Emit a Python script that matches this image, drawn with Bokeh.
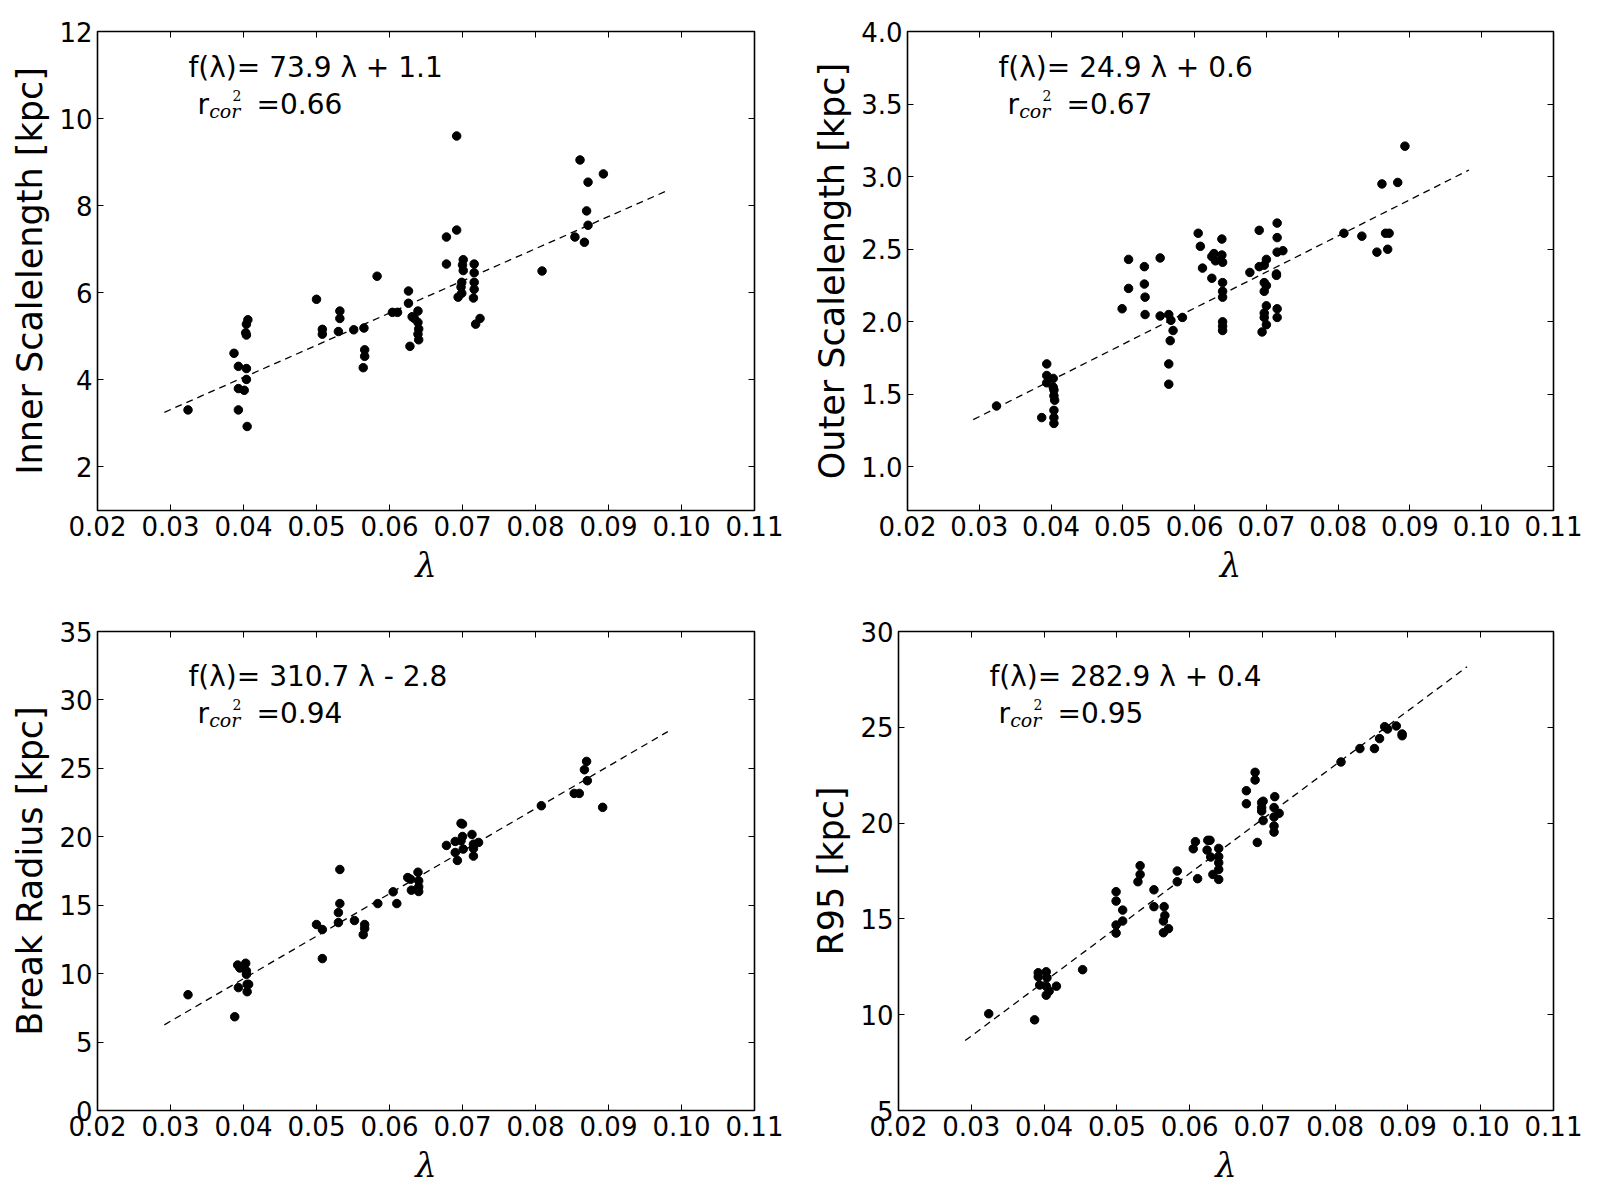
from bokeh.plotting import figure
from bokeh.layouts import column, row
from bokeh.models import Range1d, FixedTicker, LinearAxis, Label
from bokeh.embed import file_html
from bokeh.resources import INLINE

# ---------------- data ----------------
x_ticks = [0.02, 0.03, 0.04, 0.05, 0.06, 0.07, 0.08, 0.09, 0.10, 0.11]
x_tick_labels = ["0.02", "0.03", "0.04", "0.05", "0.06", "0.07", "0.08", "0.09", "0.10", "0.11"]

# Panel 1: inner scalelength
lam1 = [0.0324, 0.0387, 0.0393, 0.0393, 0.0393, 0.0401, 0.0404, 0.0404, 0.0403, 0.0404, 0.0404, 0.0406, 0.0405,
        0.0500, 0.0508, 0.0508, 0.0530, 0.0532, 0.0532, 0.0551, 0.0565, 0.0566, 0.0566, 0.0564, 0.0583,
        0.0604, 0.0611, 0.0626, 0.0626, 0.0628, 0.0631, 0.0634, 0.0639, 0.0639, 0.0640, 0.0639, 0.0640,
        0.0678, 0.0678, 0.0692, 0.0692, 0.0701, 0.0700, 0.0701, 0.0699, 0.0698, 0.0699, 0.0694,
        0.0716, 0.0716, 0.0716, 0.0716, 0.0715, 0.0724, 0.0718,
        0.0809, 0.0854, 0.0861, 0.0867, 0.0870, 0.0872, 0.0872, 0.0893]
inner = [3.31, 4.61, 4.31, 3.80, 3.31, 3.76, 4.26, 4.01, 5.08, 5.03, 5.28, 5.38, 2.93,
         5.85, 5.16, 5.05, 5.11, 5.58, 5.41, 5.15, 5.19, 4.69, 4.54, 4.28, 6.38,
         5.55, 5.55, 6.04, 5.76, 4.77, 5.45, 5.41, 5.58, 5.32, 5.17, 5.05, 4.92,
         6.66, 7.28, 7.44, 9.60, 6.76, 6.64, 6.51, 6.24, 6.13, 5.99, 5.90,
         6.66, 6.46, 6.24, 6.08, 5.88, 5.41, 5.28,
         6.50, 7.28, 9.05, 7.16, 7.88, 8.54, 7.55, 8.73]
inner_ticks = [2, 4, 6, 8, 10, 12]
inner_tick_labels = ["2", "4", "6", "8", "10", "12"]

# Panel 2: outer scalelength
lam2 = [0.0324, 0.0387, 0.0394, 0.0394, 0.0394, 0.0403, 0.0403, 0.0404, 0.0404, 0.0405, 0.0404, 0.0404, 0.0404,
        0.0499, 0.0508, 0.0508, 0.0530, 0.0530, 0.0531, 0.0531, 0.0552, 0.0552, 0.0564, 0.0567, 0.0570, 0.0566,
        0.0564, 0.0564, 0.0583,
        0.0605, 0.0608, 0.0611, 0.0624, 0.0624, 0.0627, 0.0629, 0.0638, 0.0638, 0.0639, 0.0639, 0.0639, 0.0639,
        0.0639, 0.0639, 0.0639,
        0.0677, 0.0690, 0.0690, 0.0694, 0.0697, 0.0700, 0.0697, 0.0700, 0.0697, 0.0700, 0.0697, 0.0697, 0.0700,
        0.0715, 0.0715, 0.0715, 0.0723, 0.0714, 0.0714, 0.0715, 0.0715,
        0.0808, 0.0833, 0.0854, 0.0861, 0.0866, 0.0871, 0.0869, 0.0883, 0.0893]
outer = [1.42, 1.34, 1.71, 1.63, 1.58, 1.61, 1.55, 1.53, 1.49, 1.46, 1.39, 1.34, 1.30,
         2.09, 2.23, 2.43, 2.38, 2.26, 2.17, 2.05, 2.44, 2.04, 2.05, 2.01, 1.94, 1.87,
         1.71, 1.57, 2.03,
         2.61, 2.52, 2.37, 2.30, 2.45, 2.47, 2.42, 2.57, 2.46, 2.41, 2.27, 2.21, 2.17,
         2.00, 1.97, 1.94,
         2.34, 2.63, 2.38, 1.93, 2.39, 2.43, 2.27, 2.25, 2.21, 2.11, 2.06, 2.03, 1.98,
         2.68, 2.58, 2.48, 2.49, 2.33, 2.32, 2.09, 2.03,
         2.61, 2.59, 2.48, 2.95, 2.61, 2.61, 2.50, 2.96, 3.21]
outer_ticks = [1.0, 1.5, 2.0, 2.5, 3.0, 3.5, 4.0]
outer_tick_labels = ["1.0", "1.5", "2.0", "2.5", "3.0", "3.5", "4.0"]

# Panel 3: break radius
lam3 = [0.0324, 0.0388, 0.0392, 0.0395, 0.0403, 0.0404, 0.0404, 0.0393, 0.0405, 0.0407, 0.0405,
        0.0500, 0.0508, 0.0508, 0.0530, 0.0530, 0.0532, 0.0532, 0.0552, 0.0566, 0.0566, 0.0564, 0.0584,
        0.0605, 0.0610, 0.0625, 0.0629, 0.0630, 0.0639, 0.0640, 0.0640, 0.0640,
        0.0678, 0.0690, 0.0690, 0.0693, 0.0698, 0.0700, 0.0700, 0.0698, 0.0701, 0.0713, 0.0715, 0.0715,
        0.0715, 0.0722,
        0.0808, 0.0853, 0.0860, 0.0867, 0.0870, 0.0871, 0.0892]
brk = [8.46, 6.85, 10.63, 10.41, 10.76, 10.20, 9.95, 8.98, 9.22, 9.22, 8.68,
       13.59, 13.22, 11.10, 14.46, 13.73, 15.12, 17.61, 13.88, 13.59, 13.29, 12.85, 15.12,
       15.98, 15.12, 17.02, 16.90, 16.10, 17.41, 16.78, 16.34, 16.00,
       19.37, 19.66, 18.85, 18.27, 20.98, 20.93, 20.02, 19.71, 19.10, 20.17, 19.46, 19.15,
       18.59, 19.59,
       22.27, 23.17, 23.17, 24.90, 25.51, 24.10, 22.15]
brk_ticks = [0, 5, 10, 15, 20, 25, 30, 35]
brk_tick_labels = ["0", "5", "10", "15", "20", "25", "30", "35"]

# Panel 4: R95
lam4 = [0.0324, 0.0387, 0.0392, 0.0392, 0.0394, 0.0403, 0.0404, 0.0403, 0.0403, 0.0407, 0.0417, 0.0453,
        0.0499, 0.0499, 0.0508, 0.0499, 0.0499, 0.0508, 0.0529, 0.0532, 0.0532, 0.0551, 0.0551, 0.0565,
        0.0566, 0.0564, 0.0564, 0.0571, 0.0583, 0.0583,
        0.0605, 0.0608, 0.0611, 0.0625, 0.0628, 0.0624, 0.0629, 0.0632, 0.0640, 0.0640, 0.0640, 0.0640, 0.0640,
        0.0678, 0.0678, 0.0690, 0.0690, 0.0693, 0.0699, 0.0699, 0.0699, 0.0701, 0.0701, 0.0717, 0.0716,
        0.0716, 0.0716, 0.0716, 0.0723,
        0.0808, 0.0834, 0.0854, 0.0861, 0.0868, 0.0872, 0.0884, 0.0892, 0.0892]
r95 = [10.05, 9.73, 12.19, 11.98, 11.55, 12.24, 11.93, 11.49, 11.02, 11.23, 11.49, 12.35,
       16.42, 15.93, 15.46, 14.68, 14.26, 14.89, 16.94, 17.32, 17.78, 16.52, 15.64, 15.64,
       15.18, 14.89, 14.28, 14.49, 17.50, 16.94,
       18.66, 19.03, 17.10, 19.10, 19.10, 18.59, 18.23, 17.32, 18.68, 18.25, 17.93, 17.58, 17.06,
       21.69, 21.01, 22.65, 22.25, 18.99, 21.07, 20.81, 20.63, 21.14, 20.13, 21.38, 20.81,
       20.32, 19.85, 19.53, 20.51,
       23.19, 23.89, 23.89, 24.41, 25.03, 24.91, 25.07, 24.65, 24.56]
r95_ticks = [5, 10, 15, 20, 25, 30]
r95_tick_labels = ["5", "10", "15", "20", "25", "30"]

# fit parameters (slope, intercept) and correlation texts
fit_inner = (73.9, 1.1)
fit_outer = (24.9, 0.6)
fit_brk = (310.7, -2.8)
fit_r95 = (282.9, 0.4)
eq_texts = ["f(λ)= 73.9 λ + 1.1", "f(λ)= 24.9 λ + 0.6", "f(λ)= 310.7 λ - 2.8", "f(λ)= 282.9 λ + 0.4"]
r2_texts = ["=0.66", "=0.67", "=0.94", "=0.95"]
y_titles = ["Inner Scalelength [kpc]", "Outer Scalelength [kpc]", "Break Radius [kpc]", "R95 [kpc]"]

FONT = "DejaVu Sans"
TICK_FS = "26px"
ANN_FS = "28px"


def style_axis(ax, ticks, labels, show_labels=True):
    ax.ticker = FixedTicker(ticks=ticks)
    ax.major_tick_in = 6
    ax.major_tick_out = 0
    ax.major_tick_line_color = "black"
    ax.major_tick_line_width = 1
    ax.minor_tick_line_color = None
    ax.axis_line_color = None
    ax.major_label_text_font = FONT
    if show_labels:
        ax.major_label_overrides = {t: l for t, l in zip(ticks, labels)}
        ax.major_label_text_color = "black"
        ax.major_label_standoff = 5
        ax.major_label_text_font_size = TICK_FS
    else:
        # mirror ticks only: labels are not drawn
        ax.major_label_text_color = None
        ax.major_label_standoff = 0
        ax.major_label_text_font_size = "6px"


def make_panel(lam, vals, fit, eq_text, r2_text, ytitle, yr, yticks, ylabels,
               width, height, bl, br, bt, bb, frame_h, top_off):
    p = figure(width=width, height=height, output_backend="svg", toolbar_location=None,
               x_range=Range1d(0.02, 0.11), y_range=Range1d(*yr),
               min_border_left=bl, min_border_right=br, min_border_top=bt, min_border_bottom=bb)
    p.xgrid.visible = False
    p.ygrid.visible = False
    p.outline_line_color = "black"
    p.outline_line_width = 1.6
    p.outline_line_alpha = 1.0
    p.background_fill_color = "white"
    p.border_fill_color = "white"

    style_axis(p.xaxis[0], x_ticks, x_tick_labels)
    style_axis(p.yaxis[0], yticks, ylabels)
    p.xaxis[0].axis_label = "λ"
    p.xaxis[0].axis_label_text_font = "DejaVu Serif"
    p.xaxis[0].axis_label_text_font_style = "italic"
    p.xaxis[0].axis_label_text_font_size = "34px"
    p.xaxis[0].axis_label_text_color = "black"
    p.xaxis[0].axis_label_standoff = 6
    p.yaxis[0].axis_label = ytitle
    p.yaxis[0].axis_label_text_font = FONT
    p.yaxis[0].axis_label_text_font_style = "normal"
    p.yaxis[0].axis_label_text_font_size = "35px"
    p.yaxis[0].axis_label_text_color = "black"
    p.yaxis[0].axis_label_standoff = 6

    top_ax = LinearAxis()
    style_axis(top_ax, x_ticks, x_tick_labels, show_labels=False)
    p.add_layout(top_ax, "above")
    right_ax = LinearAxis()
    style_axis(right_ax, yticks, ylabels, show_labels=False)
    p.add_layout(right_ax, "right")

    # fit line spanning 0.9*min to 1.1*max of lambda
    slope, icpt = fit
    fx = [0.9 * min(lam), 1.1 * max(lam)]
    fy = [slope * v + icpt for v in fx]
    p.line(fx, fy, line_color="black", line_width=1.3, line_dash="7 5")

    p.scatter(lam, vals, marker="circle", size=8.5, fill_color="black", line_color="black")

    # annotations (frame-relative screen coordinates)
    fx0, fy0 = 91, frame_h - (36.5 + top_off)
    rx0, ry0 = 100, frame_h - (74 + top_off)
    p.add_layout(Label(x=fx0, y=fy0, x_units="screen", y_units="screen", text=eq_text,
                       text_font=FONT, text_font_size=ANN_FS, text_color="black",
                       text_baseline="alphabetic", text_align="left"))
    p.add_layout(Label(x=rx0, y=ry0, x_units="screen", y_units="screen", text="r",
                       text_font=FONT, text_font_size=ANN_FS, text_color="black",
                       text_baseline="alphabetic", text_align="left"))
    p.add_layout(Label(x=rx0 + 11.7, y=ry0 - 6, x_units="screen", y_units="screen", text="cor",
                       text_font="DejaVu Serif", text_font_style="italic", text_font_size="19px",
                       text_color="black", text_baseline="alphabetic", text_align="left"))
    p.add_layout(Label(x=rx0 + 35, y=ry0 + 9, x_units="screen", y_units="screen", text="2",
                       text_font="DejaVu Serif", text_font_size="14px",
                       text_color="black", text_baseline="alphabetic", text_align="left"))
    p.add_layout(Label(x=rx0 + 59, y=ry0, x_units="screen", y_units="screen", text=r2_text,
                       text_font=FONT, text_font_size=ANN_FS, text_color="black",
                       text_baseline="alphabetic", text_align="left"))
    return p


p1 = make_panel(lam1, inner, fit_inner, eq_texts[0], r2_texts[0], y_titles[0], (1, 12),
                inner_ticks, inner_tick_labels, 808, 608, 97, 54, 30, 98, 480, 0)
p2 = make_panel(lam2, outer, fit_outer, eq_texts[1], r2_texts[1], y_titles[1], (0.7, 4.0),
                outer_ticks, outer_tick_labels, 780, 608, 99, 35, 31, 97, 480, 0)
p3 = make_panel(lam3, brk, fit_brk, eq_texts[2], r2_texts[2], y_titles[2], (0, 35),
                brk_ticks, brk_tick_labels, 808, 590, 97, 54, 23, 88, 479, 8)
p4 = make_panel(lam4, r95, fit_r95, eq_texts[3], r2_texts[3], y_titles[3], (5, 30),
                r95_ticks, r95_tick_labels, 780, 590, 89, 35, 23, 88, 479, 8)

layout = column(row(p1, p2), row(p3, p4))
open("out.html", "w").write(file_html(layout, INLINE))
